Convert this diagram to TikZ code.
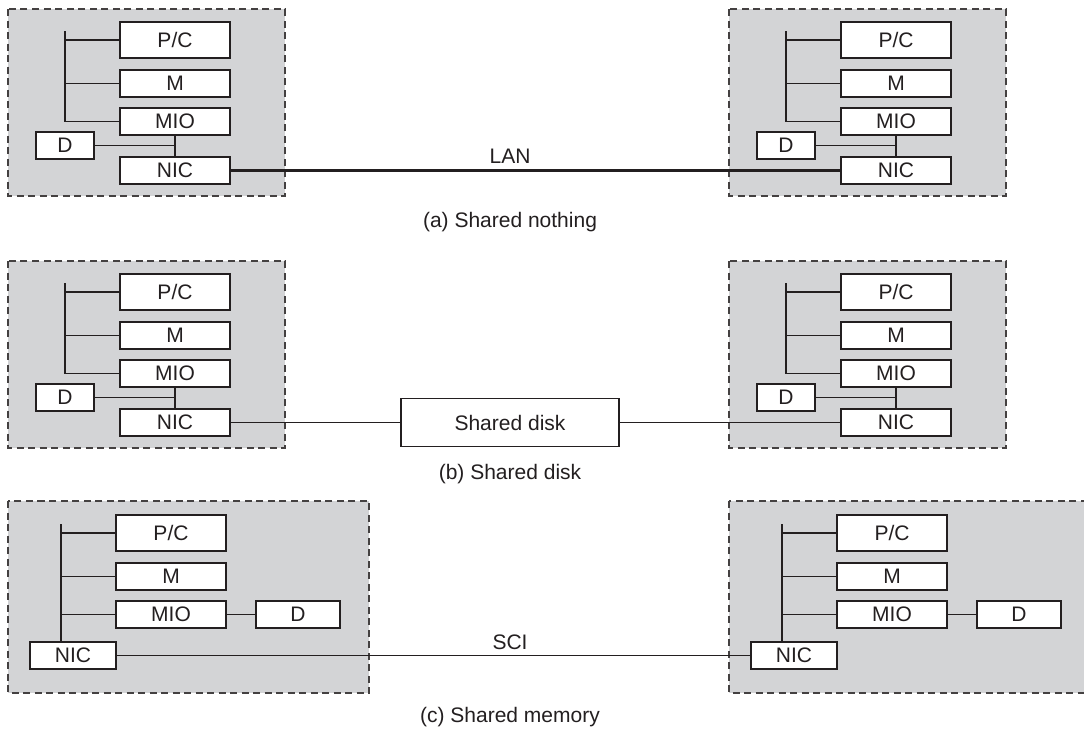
\documentclass[tikz,border=0pt]{standalone}
\usepackage{fontspec}
\setmainfont{Liberation Sans}
\definecolor{bgray}{RGB}{211,212,214}
\definecolor{ink}{RGB}{35,31,32}
\tikzset{
  txt/.style={font=\fontsize{21}{25}\selectfont, text=ink, inner sep=0pt},
  blk/.style={txt, draw=ink, fill=white, line width=1.3pt, inner sep=0pt},
  ln/.style={draw=ink, line width=1.2pt},
  frame/.style={draw=ink!85, fill=bgray, line width=1.2pt, dash pattern=on 7pt off 4.5pt},
  compA/.pic={
    \draw[frame] (8,9) rectangle (285,196);
    \node[blk, minimum width=110pt, minimum height=36pt] (-pc) at (175,40) {P/C};
    \node[blk, minimum width=110pt, minimum height=27pt] (-m) at (175,83.5) {M};
    \node[blk, minimum width=110pt, minimum height=27pt] (-mio) at (175,121.5) {MIO};
    \node[blk, minimum width=58pt, minimum height=27pt] (-d) at (65,145.5) {D};
    \node[blk, minimum width=110pt, minimum height=27pt] (-nic) at (175,170.5) {NIC};
    \draw[ln] (65,31) |- (-mio.west);
    \draw[ln] (65,40) -- (-pc.west);
    \draw[ln] (65,83.5) -- (-m.west);
    \draw[ln] (-d.east) -- (175,145.5);
    \draw[ln] (-mio.south) -- (-nic.north);
  },
  compC/.pic={
    \draw[frame] (8,501) rectangle (369,693);
    \node[blk, minimum width=110pt, minimum height=36pt] (-pc) at (171,533) {P/C};
    \node[blk, minimum width=110pt, minimum height=27pt] (-m) at (171,576.5) {M};
    \node[blk, minimum width=110pt, minimum height=27pt] (-mio) at (171,614.5) {MIO};
    \node[blk, minimum width=84pt, minimum height=27pt] (-d) at (298,614.5) {D};
    \node[blk, minimum width=86pt, minimum height=27pt] (-nic) at (73,655.5) {NIC};
    \draw[ln] (61,524) -- (61,642);
    \draw[ln] (61,533) -- (-pc.west);
    \draw[ln] (61,576.5) -- (-m.west);
    \draw[ln] (61,614.5) -- (-mio.west);
    \draw[ln] (-mio.east) -- (-d.west);
  }
}
\begin{document}
\begin{tikzpicture}[x=1pt,y=-1pt]
  \clip (0,0) rectangle (1084,729);
  \fill[white] (0,0) rectangle (1084,729);
  % (a) shared nothing
  \pic (aL) at (0,0) {compA};
  \pic (aR) at (721,0) {compA};
  \draw[draw=ink, line width=2.5pt] (aL-nic.east) -- (aR-nic.west);
  \node[txt] (lan) at (510,156) {LAN};
  \node[txt] (capa) at (510,222) {(a) Shared nothing};
  % (b) shared disk
  \pic (bL) at (0,252) {compA};
  \pic (bR) at (721,252) {compA};
  \node[blk, minimum width=218pt, minimum height=48pt] (sd) at (510,422.5) {Shared disk};
  \draw[ln] (bL-nic.east) -- (sd.west);
  \draw[ln] (sd.east) -- (bR-nic.west);
  \node[txt] (capb) at (510,474) {(b) Shared disk};
  % (c) shared memory
  \pic (cL) at (0,0) {compC};
  \pic (cR) at (721,0) {compC};
  \draw[ln] (cL-nic.east) -- (cR-nic.west);
  \node[txt] (sci) at (510,642) {SCI};
  \node[txt] (capc) at (510,717) {(c) Shared memory};
\end{tikzpicture}
\end{document}
